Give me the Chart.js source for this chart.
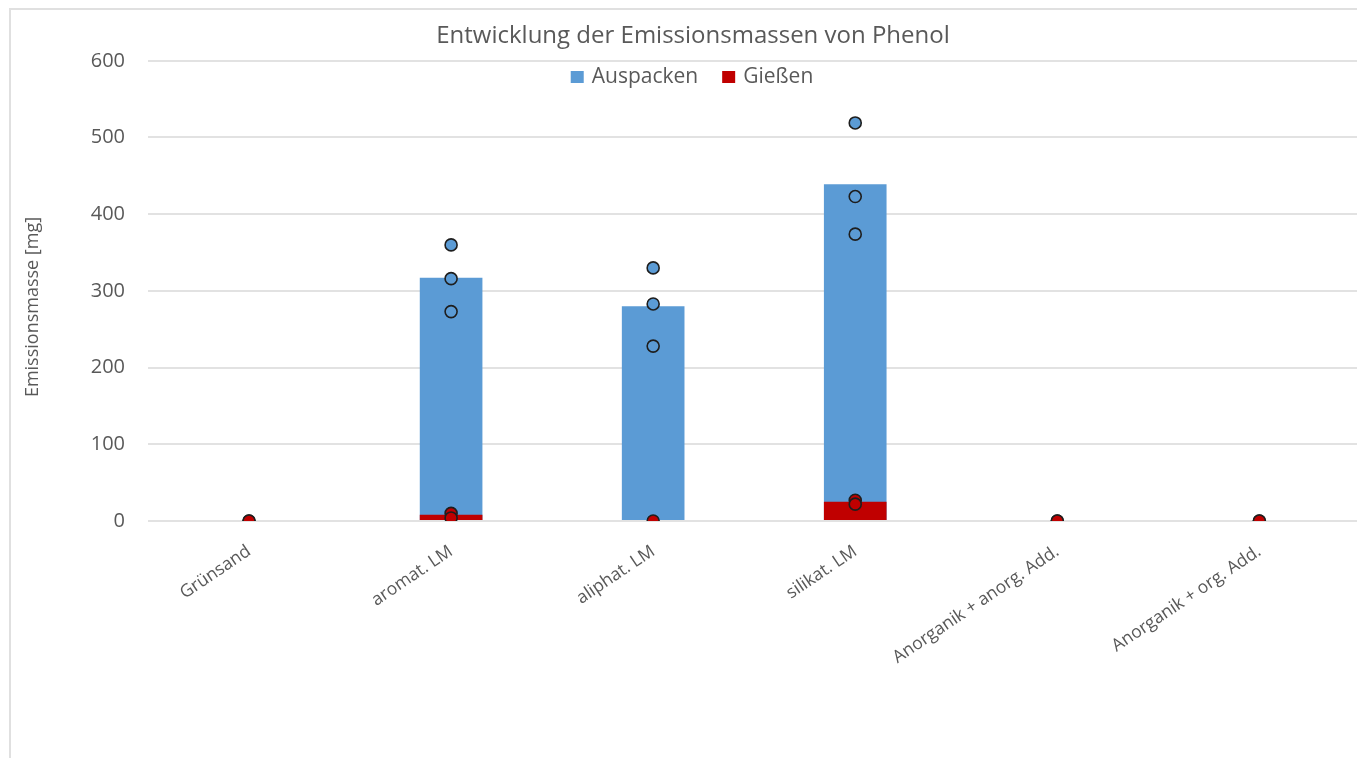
<!DOCTYPE html>
<html>
<head>
<meta charset="utf-8">
<script src="https://cdn.jsdelivr.net/npm/chart.js@4/dist/chart.umd.min.js"></script>
<style>
  html, body { margin: 0; padding: 0; background: #fff; overflow: hidden; width: 1357px; height: 758px; }
  #frame { position: absolute; left: 9px; top: 8px; right: 0; bottom: 0;
           border-left: 2px solid #e0e0e0; border-top: 2px solid #e0e0e0; }
  #wrap { position: absolute; left: 0; top: 0; width: 1368px; height: 758px; }
</style>
</head>
<body>
<div id="frame"></div>
<div id="wrap"><canvas id="c"></canvas></div>
<script>
// Categories (binder systems)
const categories = ['Grünsand', 'aromat. LM', 'aliphat. LM', 'silikat. LM',
                    'Anorganik + anorg. Add.', 'Anorganik + org. Add.'];

// Mean emission mass per step [mg]
const auspackenMean = [0, 317, 280, 439, 0, 0];
const giessenMean   = [0, 8, 0, 25, 0, 0];

// Single measurements per step [mg]
const auspackenRuns = [[0], [360, 316, 273], [330, 283, 228], [519, 423, 374], [0], [0]];
const giessenRuns   = [[0], [10, 4], [0], [27, 22], [0], [0]];

// Y axis ticks
const yTicks = [0, 100, 200, 300, 400, 500, 600];

const seriesNames = ['Auspacken', 'Gießen'];
const yTitle = 'Emissionsmasse [mg]';
const BLUE = '#5B9BD5';
const RED = '#C00000';
const GREY = '#595959';

function toPoints(runs) {
  const pts = [];
  runs.forEach((vals, i) => vals.forEach(v => pts.push({ x: categories[i], y: v })));
  return pts;
}

// Legend inside the plot area below the title, and the vertical axis title
const annotations = {
  id: 'annotations',
  afterDraw(chart) {
    const ctx = chart.ctx;
    const items = [{ label: seriesNames[0], color: BLUE }, { label: seriesNames[1], color: RED }];
    ctx.save();
    ctx.font = '21px "Open Sans"';
    const box = 13, gapBox = 8, gapItem = 24;
    const widths = items.map(it => ctx.measureText(it.label).width);
    const total = widths.reduce((a, w) => a + box + gapBox + w, 0) + gapItem * (items.length - 1);
    let x = 692 - total / 2;
    const yc = 77;
    ctx.textBaseline = 'middle';
    ctx.textAlign = 'left';
    items.forEach((it, i) => {
      ctx.fillStyle = it.color;
      ctx.fillRect(x, yc - 6, box, 12);
      x += box + gapBox;
      ctx.fillStyle = GREY;
      ctx.fillText(it.label, x, yc);
      x += widths[i] + gapItem;
    });

    ctx.translate(33, 307);
    ctx.rotate(-Math.PI / 2);
    ctx.textAlign = 'center';
    ctx.font = '18px "Open Sans"';
    ctx.fillStyle = GREY;
    ctx.fillText(yTitle, 0, 0);
    ctx.restore();
  }
};

new Chart(document.getElementById('c'), {
  data: {
    labels: categories,
    datasets: [
      { type: 'bar', label: seriesNames[0], data: auspackenMean, backgroundColor: BLUE,
        grouped: false, order: 4, barPercentage: 0.31, categoryPercentage: 1 },
      { type: 'bar', label: seriesNames[1], data: giessenMean, backgroundColor: RED,
        grouped: false, order: 3, barPercentage: 0.31, categoryPercentage: 1 },
      { type: 'line', label: seriesNames[0] + ' Einzelwerte', data: toPoints(auspackenRuns),
        showLine: false, order: 2, pointRadius: 6, pointBorderWidth: 1.6,
        pointBackgroundColor: BLUE, pointBorderColor: '#1e1e1e' },
      { type: 'line', label: seriesNames[1] + ' Einzelwerte', data: toPoints(giessenRuns),
        showLine: false, order: 1, pointRadius: 6, pointBorderWidth: 1.6,
        pointBackgroundColor: RED, pointBorderColor: '#1e1e1e' }
    ]
  },
  options: {
    responsive: true,
    maintainAspectRatio: false,
    animation: false,
    layout: { padding: { left: 18, right: 0, top: 0, bottom: 0 } },
    plugins: {
      legend: { display: false },
      tooltip: { enabled: false },
      title: {
        display: true,
        text: 'Entwicklung der Emissionsmassen von Phenol',
        color: GREY,
        font: { family: 'Open Sans', size: 24, weight: 'normal' },
        padding: { top: 22, bottom: 10 }
      }
    },
    scales: {
      x: {
        type: 'category',
        offset: true,
        grid: { display: false },
        border: { display: false },
        ticks: {
          color: GREY, font: { family: 'Open Sans', size: 17.5 },
          minRotation: 34, maxRotation: 34, padding: 12, autoSkip: false
        },
        afterFit(scale) { scale.height = 237; }
      },
      y: {
        min: 0, max: 600,
        afterBuildTicks(scale) { scale.ticks = yTicks.map(v => ({ value: v })); },
        grid: { color: '#e2e2e2', lineWidth: 2, drawTicks: false },
        border: { display: false },
        ticks: { color: GREY, font: { family: 'Open Sans', size: 20 }, padding: 23 },
        afterFit(scale) { scale.width = 130; }
      }
    }
  },
  plugins: [annotations]
});
</script>
</body>
</html>
